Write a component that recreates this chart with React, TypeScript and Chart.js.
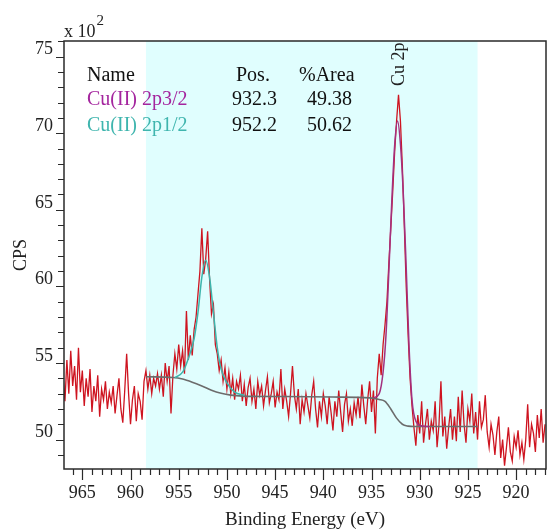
import React, { useEffect, useRef } from "react";
import { Chart, registerables } from "chart.js";
Chart.register(...registerables);

const FONT = "'Liberation Serif', 'Times New Roman', serif";

// Measured spectrum: first energy and sampling step (eV), counts per sample
const START_EV = 967.0;
const STEP_EV = 0.2;
const spectrumCounts = [
  5420, 5250, 5520, 5300, 5580, 5350, 5480, 5260, 5600, 5310,
  5450, 5220, 5400, 5280, 5460, 5180, 5350, 5250, 5420, 5150,
  5330, 5260, 5380, 5200, 5310, 5240, 5350, 5170, 5290, 5400,
  5200, 5110, 5320, 5560, 5300, 5100, 5260, 5350, 5120, 5300,
  5250, 5130, 5380, 5450, 5330, 5420, 5300, 5400, 5350, 5430,
  5330, 5420, 5280, 5500, 5380, 5480, 5170, 5420, 5560, 5460,
  5620, 5480, 5580, 5430, 5840, 5520, 5680, 5550, 5720, 5800,
  5950, 6100, 6380, 6080, 6180, 6360, 6050, 5820, 5880, 5620,
  5560, 5450, 5520, 5380, 5470, 5330, 5440, 5300, 5400, 5260,
  5380, 5330, 5420, 5250, 5360, 5220, 5340, 5400, 5250, 5330,
  5200, 5380, 5290, 5350, 5220, 5320, 5410, 5240, 5300, 5380,
  5210, 5310, 5260, 5460, 5200, 5330, 5250, 5150, 5300, 5480,
  5290, 5200, 5330, 5100, 5260, 5180, 5300, 5220, 5140, 5290,
  5380, 5200, 5080, 5250, 5150, 5300, 5220, 5100, 5280, 5180,
  5060, 5250, 5150, 5320, 5180, 5050, 5230, 5300, 5120, 5200,
  5090, 5240, 5160, 5280, 5140, 5360, 5220, 5100, 5260, 5380,
  5180, 5320, 5040, 5400, 5560, 5420, 5620, 5750, 5900, 6150,
  6380, 6620, 6880, 7080, 7250, 7080, 6780, 6400, 6000, 5680,
  5400, 5220, 5080, 4960, 5160, 5040, 5250, 4980, 5100, 5200,
  5000, 5120, 5060, 5250, 4950, 5100, 5380, 5020, 5150, 4940,
  5080, 5200, 5000, 5150, 4990, 5280, 5050, 5320, 5100, 4980,
  5200, 5120, 5300, 5040, 5180, 5000, 5250, 5080, 5130, 5290,
  5050, 4950, 5100, 5030, 4900, 5050, 5150, 4880, 5000, 4830,
  4950, 5080, 4920, 4860, 5020, 4950, 5060, 4900, 4980, 4870,
  5000, 5230, 4950, 5100, 5040, 4920, 5160, 5010, 5200, 4980,
  5100,
];

// Shirley-type background
const bgEnergies = [958.4, 955.6, 954.6, 953.6, 952.6, 951.6, 950.6, 949.6, 948.4, 944.0, 939.0, 935.2, 934.2, 933.6, 933.0, 932.4, 931.8, 931.2, 930.6, 929.8, 924.0];
const bgCounts = [5410, 5405, 5395, 5375, 5350, 5322, 5302, 5290, 5284, 5281, 5278, 5272, 5262, 5250, 5200, 5140, 5100, 5088, 5085, 5085, 5085];

// Fitted component Cu(II) 2p3/2 (on background)
const p3Energies = [934.8, 934.2, 933.8, 933.5, 933.2, 932.9, 932.6, 932.3, 932.0, 931.7, 931.4, 931.1, 930.8, 930.4, 929.8, 929.0];
const p3Counts = [5272, 5300, 5440, 5680, 6100, 6550, 6920, 7080, 6930, 6600, 6120, 5600, 5260, 5120, 5090, 5085];

// Fitted component Cu(II) 2p1/2 (on background)
const p1Energies = [955.4, 954.6, 954.0, 953.4, 953.0, 952.6, 952.2, 951.8, 951.4, 951.0, 950.6, 950.0, 949.2, 948.2];
const p1Counts = [5405, 5440, 5530, 5660, 5830, 6060, 6170, 6060, 5830, 5600, 5460, 5370, 5310, 5290];

const regionStartEv = 958.4;
const regionEndEv = 924.0;

const xTickValues = [965, 960, 955, 950, 945, 940, 935, 930, 925, 920];
const yTickValues = [5000, 5500, 6000, 6500, 7000, 7500];
const X_MIN = 916.9;
const X_MAX = 966.9;
const Y_MIN = 4808;
const Y_MAX = 7602;

const tableHeader = ["Name", "Pos.", "%Area"];
const componentNames = ["Cu(II) 2p3/2", "Cu(II) 2p1/2"];
const componentPos = ["932.3", "952.2"];
const componentArea = ["49.38", "50.62"];
const componentColors = ["#A4259E", "#3FB5AE"];
const peakLabel = "Cu 2p";

const decorPlugin = {
  id: "xpsDecor",
  beforeDatasetsDraw(chart: any) {
    const { ctx, chartArea: a, scales } = chart;
    const x = scales.x;
    const x1 = x.getPixelForValue(regionStartEv);
    const x2 = x.getPixelForValue(regionEndEv);
    ctx.save();
    ctx.fillStyle = "#E0FEFE";
    ctx.fillRect(Math.min(x1, x2), a.top, Math.abs(x2 - x1), a.bottom - a.top);
    ctx.restore();
  },
  afterDatasetsDraw(chart: any) {
    const { ctx, chartArea: a, scales } = chart;
    const x = scales.x;
    const y = scales.y;
    ctx.save();
    // frame
    ctx.strokeStyle = "#2a2a2a";
    ctx.lineWidth = 1.5;
    ctx.strokeRect(a.left, a.top, a.right - a.left, a.bottom - a.top);
    // x ticks (every 1 eV, longer every 5)
    ctx.lineWidth = 1.2;
    ctx.beginPath();
    for (let v = Math.ceil(X_MIN); v <= Math.floor(X_MAX); v++) {
      const px = Math.round(x.getPixelForValue(v)) + 0.5;
      const len = v % 5 === 0 ? 11 : 6;
      ctx.moveTo(px, a.bottom);
      ctx.lineTo(px, a.bottom + len);
    }
    // y ticks (every 100, longer every 500)
    for (let v = Math.ceil(Y_MIN / 100) * 100; v <= Y_MAX; v += 100) {
      const py = Math.round(y.getPixelForValue(v)) + 0.5;
      const len = v % 500 === 0 ? 8 : 6;
      ctx.moveTo(a.left, py);
      ctx.lineTo(a.left - len, py);
    }
    ctx.stroke();

    // x 10^2 multiplier
    ctx.fillStyle = "#222";
    ctx.font = `18px ${FONT}`;
    ctx.textBaseline = "alphabetic";
    ctx.textAlign = "left";
    ctx.fillText("x 10", 64, 37);
    const w = ctx.measureText("x 10").width;
    ctx.font = `15px ${FONT}`;
    ctx.fillText("2", 64 + w + 1, 25);

    // component table
    ctx.font = `20px ${FONT}`;
    ctx.fillStyle = "#111";
    ctx.fillText(tableHeader[0], 87, 81);
    ctx.fillText(tableHeader[1], 236, 81);
    ctx.fillText(tableHeader[2], 299, 81);
    const rowBase = [105, 131];
    for (let i = 0; i < componentNames.length; i++) {
      ctx.fillStyle = componentColors[i];
      ctx.fillText(componentNames[i], 87, rowBase[i]);
      ctx.fillStyle = "#111";
      ctx.fillText(componentPos[i], 232, rowBase[i]);
      ctx.fillText(componentArea[i], 307, rowBase[i]);
    }

    // rotated peak label
    ctx.save();
    ctx.translate(x.getPixelForValue(931.6), 86);
    ctx.rotate(-Math.PI / 2);
    ctx.font = `18px ${FONT}`;
    ctx.fillStyle = "#222";
    ctx.textAlign = "left";
    ctx.fillText(peakLabel, 0, 0);
    ctx.restore();

    ctx.restore();
  },
};

export default function App() {
  const ref = useRef<HTMLCanvasElement>(null);
  useEffect(() => {
    const spectrum = spectrumCounts.map((c, i) => ({ x: Number((START_EV - i * STEP_EV).toFixed(2)), y: c }));
    const bg = bgEnergies.map((e, i) => ({ x: e, y: bgCounts[i] }));
    const p3 = p3Energies.map((e, i) => ({ x: e, y: p3Counts[i] }));
    const p1 = p1Energies.map((e, i) => ({ x: e, y: p1Counts[i] }));
    const chart = new Chart(ref.current!, {
      type: "line",
      data: {
        datasets: [
          { data: p3, borderColor: "#A3307F", borderWidth: 1.5, pointRadius: 0, cubicInterpolationMode: "monotone" } as any,
          { data: p1, borderColor: "#3DB5AC", borderWidth: 1.5, pointRadius: 0, cubicInterpolationMode: "monotone" } as any,
          { data: bg, borderColor: "#6C6C6C", borderWidth: 1.6, pointRadius: 0, cubicInterpolationMode: "monotone" } as any,
          { data: spectrum, borderColor: "#CE1420", borderWidth: 1.3, pointRadius: 0, tension: 0 } as any,
        ],
      },
      options: {
        responsive: false,
        animation: false,
        devicePixelRatio: 1,
        layout: { padding: { top: 41, right: 1, left: 0, bottom: 0 } },
        plugins: { legend: { display: false }, tooltip: { enabled: false } },
        scales: {
          x: {
            type: "linear",
            reverse: true,
            min: X_MIN,
            max: X_MAX,
            afterBuildTicks: (s: any) => { s.ticks = xTickValues.map((v) => ({ value: v })); },
            afterFit: (s: any) => { s.height = 63; },
            grid: { display: false, drawTicks: false },
            border: { display: false },
            ticks: {
              padding: 13,
              maxRotation: 0,
              autoSkip: false,
              color: "#222",
              font: { family: FONT, size: 18 },
              callback: (v: any) => String(v),
            },
            title: {
              display: true,
              text: "Binding Energy (eV)",
              color: "#222",
              font: { family: FONT, size: 19 },
              padding: { top: 0, bottom: 1 },
            },
          },
          y: {
            type: "linear",
            min: Y_MIN,
            max: Y_MAX,
            afterBuildTicks: (s: any) => { s.ticks = yTickValues.map((v) => ({ value: v })); },
            afterFit: (s: any) => { s.width = 64; },
            grid: { display: false, drawTicks: false },
            border: { display: false },
            ticks: {
              padding: 11,
              labelOffset: -7,
              autoSkip: false,
              color: "#222",
              font: { family: FONT, size: 18 },
              callback: (v: any) => String(Math.round(Number(v) / 100)),
            },
            title: {
              display: true,
              text: "CPS",
              color: "#222",
              font: { family: FONT, size: 18 },
              padding: { top: 10, bottom: 0 },
            },
          },
        },
      },
      plugins: [decorPlugin],
    } as any);
    return () => chart.destroy();
  }, []);
  return (
    <div style={{ position: "fixed", left: 0, top: 0, width: 547, height: 532, background: "#fff" }}>
      <canvas ref={ref} width={547} height={532} style={{ display: "block", width: 547, height: 532 }} />
    </div>
  );
}
